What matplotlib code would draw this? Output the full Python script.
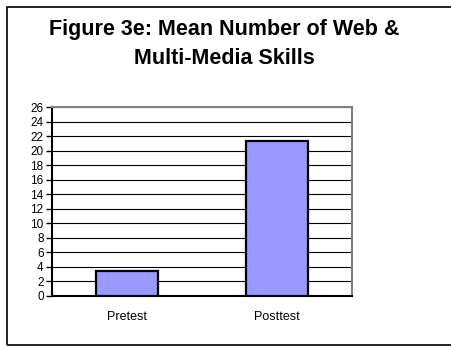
import matplotlib.pyplot as plt
from matplotlib.patches import Rectangle

plt.rcParams['font.family'] = ['Liberation Sans', 'DejaVu Sans']

categorias = ["Pretest", "Posttest"]
medias = [3.4, 21.3]
ticks_y = list(range(0, 27, 2))

fig = plt.figure(figsize=(4.51, 3.48), dpi=100)
W, H = 451, 348

# marco exterior del gráfico (el lado derecho queda fuera de la imagen)
fig.patches.append(Rectangle((7 / W, 1 - 345 / H), 460 / W, 338 / H,
                             transform=fig.transFigure, fill=False,
                             edgecolor="black", linewidth=1.2, clip_on=False))

ax = fig.add_axes([52 / W, 1 - 295.7 / H, 300 / W, 188.4 / H])
x = range(len(categorias))
ax.bar(x, medias, width=0.41, color="#9999ff", edgecolor="black",
       linewidth=1.6, zorder=3)

ax.set_xlim(-0.5, 1.5)
ax.set_ylim(0, 26)
ax.set_yticks(ticks_y)
ax.set_yticklabels([str(t) for t in ticks_y], fontsize=8.5)
ax.set_xticks(list(x))
ax.set_xticklabels(categorias, fontsize=9)
ax.tick_params(axis="x", length=0, pad=11)
ax.tick_params(axis="y", length=4, width=1, pad=2, direction="out")
ax.yaxis.grid(True, color="black", linewidth=0.8, zorder=0)

for lado in ["top", "right"]:
    ax.spines[lado].set_color("#808080")
    ax.spines[lado].set_linewidth(1.5)
for lado in ["left", "bottom"]:
    ax.spines[lado].set_color("black")
    ax.spines[lado].set_linewidth(1.5)

fig.text(224 / W, 1 - 44 / H, "Figure 3e: Mean Number of Web &\nMulti-Media Skills",
         ha="center", va="center", fontsize=15.5, fontweight="bold",
         linespacing=1.45)

fig.savefig("out.png", dpi=100)
